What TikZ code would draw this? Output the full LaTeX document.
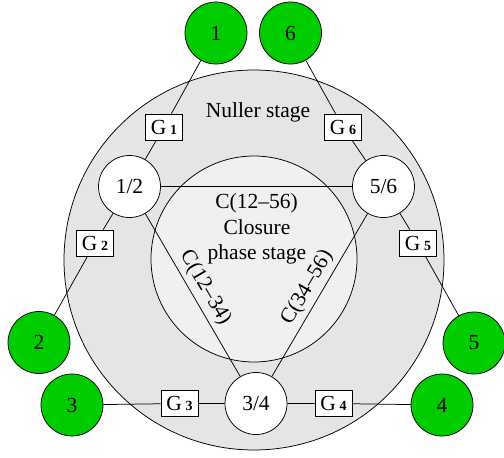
\documentclass[tikz,border=0pt]{standalone}
\usepackage{fontspec}
\setmainfont{Liberation Serif}
\begin{document}
\begin{tikzpicture}[x=1pt,y={(0pt,-1pt)},
  every node/.style={font=\fontsize{21.5}{25}\selectfont},
  ln/.style={line width=0.75pt},
  wcirc/.style={circle,draw,ln,fill=white,minimum size=62pt,inner sep=0pt},
  gcirc/.style={circle,draw,ln,fill=grn,minimum size=62pt,inner sep=0pt},
  gbox/.style={draw,ln,fill=white,minimum width=37pt,minimum height=26pt,inner sep=1pt},
  stage/.style={align=center}
]
\definecolor{grn}{RGB}{0,204,0}
\definecolor{outerg}{RGB}{229,229,229}
\definecolor{innerg}{RGB}{240,240,240}
\useasboundingbox (0,0) rectangle (504,458);
\newcommand{\gsub}[1]{G\,{\fontsize{14}{14}\selectfont\bfseries #1}}
% stages
\node[circle,draw,ln,fill=outerg,minimum size=380pt,inner sep=0pt] (nuller) at (254,260) {};
\node[circle,draw,ln,fill=innerg,minimum size=206pt,inner sep=0pt] (closure) at (254,259) {};
\node (nlab) at (258,112) {Nuller stage};
% white circles
\node[wcirc] (w12) at (129.5,186.5) {1/2};
\node[wcirc] (w56) at (383.5,186.5) {5/6};
\node[wcirc] (w34) at (256,403.5) {3/4};
% green circles
\node[gcirc] (g1) at (216,33) {1};
\node[gcirc] (g6) at (290.5,33) {6};
\node[gcirc] (g2) at (39,342.5) {2};
\node[gcirc] (g5) at (474,343) {5};
\node[gcirc] (g3) at (72,405) {3};
\node[gcirc] (g4) at (442,405) {4};
% G boxes
\node[gbox] (G1) at (164,127) {\gsub{1}};
\node[gbox] (G6) at (343,127) {\gsub{6}};
\node[gbox] (G2) at (95,243) {\gsub{2}};
\node[gbox] (G5) at (418,243) {\gsub{5}};
\node[gbox] (G3) at (179.5,403.5) {\gsub{3}};
\node[gbox] (G4) at (333.5,403.5) {\gsub{4}};
% connectors
\draw[ln] (w12) -- node[below=3pt] (c1256) {C(12–56)} (w56);
\draw[ln] (w12) -- node[sloped,above=1pt] (c1234) {C(12–34)} (w34);
\draw[ln] (w34) -- node[sloped,above=1pt] (c3456) {C(34–56)} (w56);
\node[stage] (clab) at (257,242) {Closure\\phase stage};
\draw[ln] (g1) -- (G1) -- (w12);
\draw[ln] (g2) -- (G2) -- (w12);
\draw[ln] (g6) -- (G6) -- (w56);
\draw[ln] (g5) -- (G5) -- (w56);
\draw[ln] (g3) -- (G3) -- (w34);
\draw[ln] (g4) -- (G4) -- (w34);
\end{tikzpicture}
\end{document}
